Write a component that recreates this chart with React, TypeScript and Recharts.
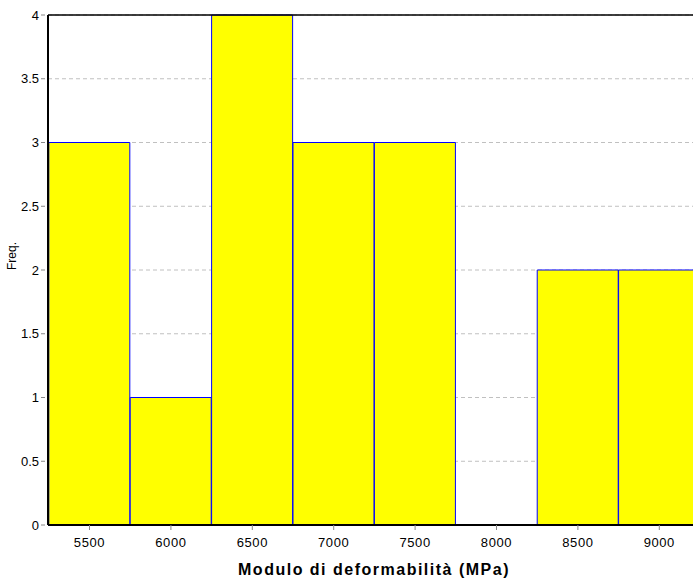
import { BarChart, Bar, XAxis, YAxis, CartesianGrid, ReferenceLine } from 'recharts'

// ── Data ─────────────────────────────────────────────────────────────

const BIN_CENTERS = [5500, 6000, 6500, 7000, 7500, 8000, 8500, 9000]
const FREQ = [3, 1, 4, 3, 3, 0, 2, 2]
const X_TICKS = [5500, 6000, 6500, 7000, 7500, 8000, 8500, 9000]
const Y_TICKS = [0, 0.5, 1, 1.5, 2, 2.5, 3, 3.5, 4]

// minor ticks on the Y axis (every 0.025)
const Y_MINOR: number[] = []
for (let i = 0; i <= 160; i++) Y_MINOR.push(i / 40)

const data = BIN_CENTERS.map((x, i) => ({ x, freq: FREQ[i] }))

const FONT = '"Liberation Sans", Arial, sans-serif'

export default function App() {
  return (
    <div style={{ position: 'absolute', left: 0, top: 0, width: 693, height: 578, overflow: 'hidden', background: '#fff' }}>
      <BarChart
        width={710}
        height={578}
        data={data}
        margin={{ top: 15, right: 10, bottom: 0, left: 0 }}
        barCategoryGap={0}
        barGap={0}
        style={{ fontFamily: FONT }}
      >
        <CartesianGrid
          yAxisId="y"
          vertical={false}
          stroke="#c0c0c0"
          strokeDasharray="4 3"
        />
        <XAxis
          dataKey="x"
          type="number"
          domain={[5245, 9250]}
          ticks={X_TICKS}
          allowDataOverflow
          height={53}
          tickSize={5}
          tick={{ fill: '#000', fontSize: 13, fontFamily: FONT, dy: 6, letterSpacing: 0.6 }}
          tickLine={{ stroke: '#888' }}
          axisLine={{ stroke: '#000', strokeWidth: 2 }}
          label={{
            value: 'Modulo di deformabilità (MPa)',
            position: 'insideBottom',
            offset: 3,
            fill: '#000',
            fontSize: 16,
            fontWeight: 'bold',
            letterSpacing: 1.5,
            fontFamily: FONT,
          }}
        />
        <YAxis
          yAxisId="minor"
          orientation="left"
          width={3}
          domain={[0, 4]}
          ticks={Y_MINOR}
          interval={0}
          tickSize={2}
          tickFormatter={() => ''}
          tickLine={{ stroke: '#000' }}
          axisLine={false}
        />
        <YAxis
          yAxisId="y"
          orientation="left"
          width={45}
          domain={[0, 4]}
          ticks={Y_TICKS}
          interval={0}
          tickSize={4}
          tick={{ fill: '#000', fontSize: 13, fontFamily: FONT }}
          tickLine={{ stroke: '#888' }}
          axisLine={false}
          label={{
            value: 'Freq.',
            angle: -90,
            position: 'insideLeft',
            offset: 12,
            fill: '#000',
            fontSize: 12,
            fontFamily: FONT,
          }}
        />
        <Bar
          yAxisId="y"
          dataKey="freq"
          fill="#ffff00"
          stroke="#0000ff"
          strokeWidth={1}
          isAnimationActive={false}
        />
        <ReferenceLine yAxisId="y" y={4} stroke="#000" strokeWidth={1.5} />
        <ReferenceLine yAxisId="y" x={5245} stroke="#000" strokeWidth={2} />
      </BarChart>
    </div>
  )
}
